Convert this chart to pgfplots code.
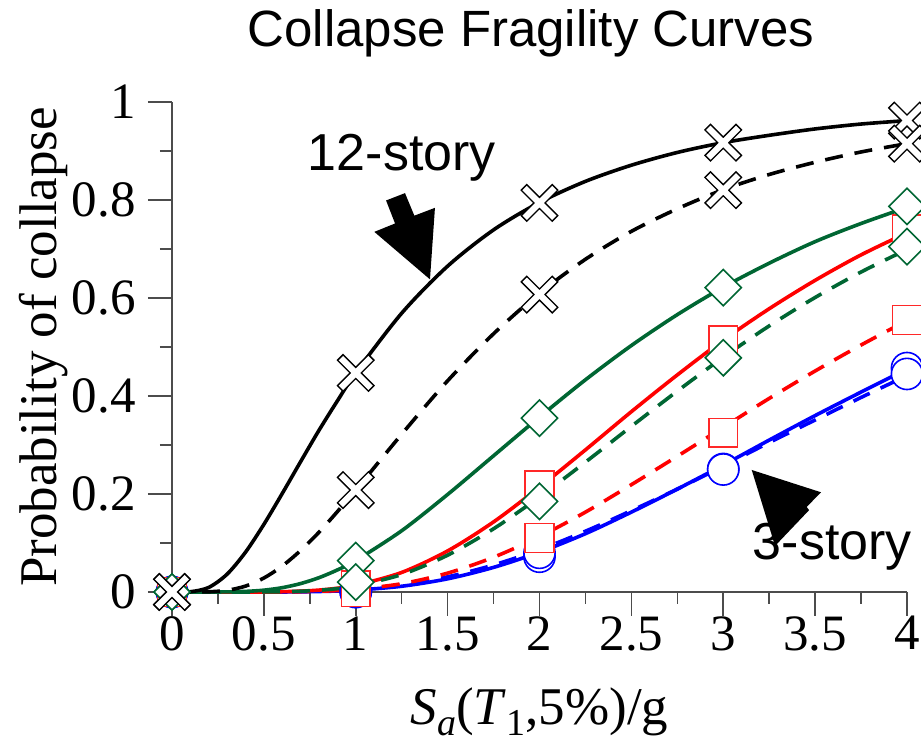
\documentclass[border=0pt]{standalone}
\usepackage{fontspec}
\setmainfont{Liberation Serif}
\newfontfamily\helv{Liberation Sans}
\usepackage{pgfplots}
\usepackage{pgfplotstable}
\pgfplotsset{compat=1.18}

\definecolor{dkgreen}{RGB}{0,102,51}
\definecolor{sqred}{RGB}{255,40,40}

% lowered, fairly large subscript as used in the axis label
\newcommand{\lsub}[1]{\raisebox{-5.5pt}{\fontsize{19}{20}\selectfont #1}}

% fitted fragility curves: b = 12-story (black), g = green, r = red, u = blue;
% s = solid, d = dashed
\pgfplotstableread{
x     bs     bd     gs     gd     rs     rd     us     ud
0     0      0      0      0      0      0      0      0
0.1   0.0005 0      0      0      0      0      0      0
0.2   0.0093 0.0004 0      0      0      0      0      0
0.3   0.0364 0.0034 0.0002 0      0      0      0      0
0.4   0.0812 0.012  0.0012 0      0      0      0      0
0.5   0.138  0.0285 0.0037 0.0001 0.0001 0      0      0
0.6   0.201  0.053  0.0088 0.0005 0.0006 0      0      0
0.7   0.266  0.0847 0.0172 0.0015 0.0017 0.0006 0.0004 0.0007
0.8   0.330  0.122  0.0292 0.0035 0.0039 0.0014 0.001  0.0015
0.9   0.390  0.164  0.045  0.0069 0.0077 0.0029 0.002  0.0029
1.0   0.447  0.208  0.0642 0.0122 0.0136 0.0053 0.0037 0.005
1.25  0.569  0.322  0.125  0.0356 0.0399 0.0169 0.0117 0.0143
1.5   0.665  0.431  0.199  0.0751 0.0838 0.0385 0.0269 0.0309
1.75  0.739  0.527  0.278  0.129  0.143  0.0709 0.0502 0.0551
2.0   0.795  0.610  0.357  0.194  0.214  0.113  0.0813 0.0864
2.25  0.838  0.679  0.433  0.265  0.290  0.163  0.119  0.124
2.5   0.871  0.736  0.503  0.338  0.368  0.219  0.163  0.166
2.75  0.897  0.782  0.566  0.410  0.443  0.277  0.210  0.210
3.0   0.917  0.821  0.622  0.479  0.514  0.336  0.259  0.257
3.25  0.932  0.852  0.671  0.543  0.578  0.395  0.310  0.305
3.5   0.945  0.877  0.715  0.601  0.636  0.451  0.360  0.351
3.75  0.955  0.898  0.752  0.653  0.688  0.504  0.408  0.397
4.0   0.962  0.915  0.785  0.699  0.733  0.554  0.455  0.4415
}\curves

% observed collapse fractions at the analysed intensities
\pgfplotstableread{
x   bs    bd    gs    gd    rs    rd    us    ud
0   0     0     0     0     0     0     0     0
1   0.447 0.208 0.064 0.020 0.014 0.000 0.000 0.000
2   0.794 0.607 0.355 0.185 0.218 0.110 0.072 0.080
3   0.917 0.820 0.621 0.478 0.514 0.325 0.251 0.250
4   0.962 0.915 0.787 0.705 0.740 0.555 0.457 0.445
}\points

\begin{document}
\begin{tikzpicture}
\begin{axis}[
  at={(0,0)}, anchor=south west,
  scale only axis, width=367.5pt, height=245pt,
  xmin=0, xmax=4, ymin=0, ymax=1,
  axis x line*=bottom, axis y line*=left,
  xtick={0,0.5,1,1.5,2,2.5,3,3.5,4},
  ytick={0,0.2,0.4,0.6,0.8,1},
  minor x tick num=1, minor y tick num=1,
  tick align=outside,
  major tick length=12pt, minor tick length=6pt,
  tick style={black!70, line width=0.8pt},
  axis line style={black!70, line width=0.8pt},
  /pgf/number format/assume math mode=true,
  ticklabel style={font=\fontsize{25.5}{30}\selectfont, inner sep=0pt},
  yticklabel style={anchor=east, xshift=-6pt},
  xticklabel style={anchor=north, yshift=0pt},
  label style={font=\fontsize{26.5}{30}\selectfont},
  xlabel={\textit{S}\lsub{\textit{a}}(\textit{T}\lsub{1},5\%)/g},
  xlabel style={at={(axis description cs:0.5,-0.27)}, anchor=base},
  ylabel={Probability of collapse},
  ylabel style={at={(axis description cs:-0.1565,0.5)}, anchor=base},
  title={Collapse Fragility Curves},
  title style={font=\helv\fontsize{25.5}{30}\selectfont,
    at={(axis description cs:0.4884,1.0878)}, anchor=base},
  clip=false,
  every axis plot/.append style={line width=1.8pt},
  cdash/.style={dash pattern=on 9pt off 6pt},
]
% fitted curves
\addplot[blue, smooth, cdash] table[x=x, y=ud] {\curves};
\addplot[blue, smooth] table[x=x, y=us] {\curves};
\addplot[red, smooth, cdash] table[x=x, y=rd] {\curves};
\addplot[red, smooth] table[x=x, y=rs] {\curves};
\addplot[dkgreen, smooth, cdash] table[x=x, y=gd] {\curves};
\addplot[dkgreen, smooth] table[x=x, y=gs] {\curves};
\addplot[black, smooth, cdash] table[x=x, y=bd] {\curves};
\addplot[black, smooth] table[x=x, y=bs] {\curves};

% data points
\addplot[only marks, mark=*, mark size=7.8pt,
  mark options={draw=blue, fill=white, line width=0.8pt}] table[x=x, y=us] {\points};
\addplot[only marks, mark=*, mark size=7.8pt,
  mark options={draw=blue, fill=white, line width=0.8pt}] table[x=x, y=ud] {\points};
\addplot[only marks, mark=square*, mark size=7.2pt,
  mark options={draw=sqred, fill=white, line width=0.8pt}] table[x=x, y=rs] {\points};
\addplot[only marks, mark=square*, mark size=7.2pt,
  mark options={draw=sqred, fill=white, line width=0.8pt}] table[x=x, y=rd] {\points};
\addplot[only marks, mark=square*, mark size=6.4pt,
  mark options={rotate=45, draw=dkgreen, fill=white, line width=0.8pt}] table[x=x, y=gs] {\points};
\addplot[only marks, mark=square*, mark size=6.4pt,
  mark options={rotate=45, draw=dkgreen, fill=white, line width=0.8pt}] table[x=x, y=gd] {\points};
\addplot[only marks, mark=x, mark size=11.3pt,
  mark options={draw=black, line width=4.6pt}] table[x=x, y=bs] {\points};
\addplot[only marks, mark=x, mark size=10.5pt,
  mark options={draw=white, line width=3.1pt}] table[x=x, y=bs] {\points};
\addplot[only marks, mark=x, mark size=11.3pt,
  mark options={draw=black, line width=4.6pt}] table[x=x, y=bd] {\points};
\addplot[only marks, mark=x, mark size=10.5pt,
  mark options={draw=white, line width=3.1pt}] table[x=x, y=bd] {\points};

% annotations
\fill[black] (axis cs:1.165,0.799) -- (axis cs:1.268,0.814) -- (axis cs:1.319,0.768)
  -- (axis cs:1.431,0.784) -- (axis cs:1.404,0.638) -- (axis cs:1.101,0.735)
  -- (axis cs:1.214,0.752) -- cycle;
\node[font=\helv\fontsize{26}{30}\selectfont, anchor=base] at (axis cs:1.2506,0.861) {12-story};
\fill[black] (axis cs:3.155,0.249) -- (axis cs:3.532,0.2035) -- (axis cs:3.454,0.1735)
  -- (axis cs:3.467,0.167) -- (axis cs:3.282,0.094) -- cycle;
\node[font=\helv\fontsize{26}{30}\selectfont, anchor=base] at (axis cs:3.594,0.0653) {3-story};
\end{axis}
\pgfresetboundingbox
\path[use as bounding box] (-86pt,-77.5pt) rectangle (374.5pt,296pt);
\end{tikzpicture}
\end{document}
